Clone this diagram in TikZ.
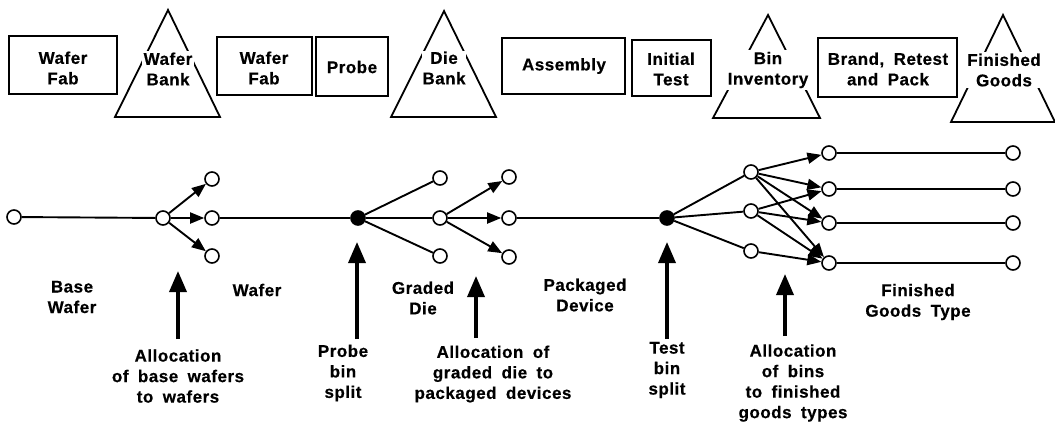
\documentclass[tikz,border=0pt]{standalone}
\usepackage{fontspec}
\setmainfont{Liberation Sans}[LetterSpace=3, WordSpace=1.8, FakeBold=0.5]
\usetikzlibrary{arrows.meta}
\newcommand\lblfont{\fontsize{17}{20.5}\selectfont\bfseries}
\tikzset{
  lbl/.style={font=\lblfont, align=center, inner sep=1pt},
  stagebox/.style={draw, line width=1.6pt},
  bank/.style={draw, line width=1.8pt, line join=miter},
  banktext/.style={lbl, fill=white, inner sep=2pt},
  dot/.style={circle, draw, fill=white, line width=1.6pt, minimum size=14pt, inner sep=0pt},
  bigdot/.style={circle, draw, fill=black, line width=1.6pt, minimum size=14pt, inner sep=0pt},
  link/.style={line width=1.9pt},
  flow/.style={line width=1.9pt, -{Triangle[length=14pt,width=11pt]}},
  decision/.style={line width=3.5pt, -{Triangle[length=21pt,width=17pt]}},
}
\begin{document}
\begin{tikzpicture}[x=1pt, y=-1pt]
\useasboundingbox (0,0) rectangle (1055,424);

% ---- process stages along the top ----
\draw[stagebox] (9,36) rectangle (117,94);
\node[lbl] (fab1) at (63,68) {Wafer\\Fab};

\draw[bank] (168,10) -- (115,117) -- (220,117) -- cycle;
\node[banktext] (wbank) at (168,69) {Wafer\\Bank};

\draw[stagebox] (217,37) rectangle (312,95);
\node[lbl] (fab2) at (264,68) {Wafer\\Fab};

\draw[stagebox] (316,37) rectangle (388,96);
\node[lbl] (probe) at (352,67) {Probe};

\draw[bank] (444,11) -- (391,117) -- (496,117) -- cycle;
\node[banktext, inner sep=0.5pt] (dbank) at (444,68) {Die\\Bank};

\draw[stagebox] (502,38) rectangle (625,94);
\node[lbl] (assy) at (564,66) {Assembly};

\draw[stagebox] (632,40) rectangle (711,96);
\node[lbl] (itest) at (671,69) {Initial\\Test};

\draw[bank] (768,15) -- (713,118) -- (820,118) -- cycle;
\node[banktext] (binv) at (768,70) {Bin\\Inventory};

\draw[stagebox] (818,38) rectangle (957,97);
\node[lbl] (brand) at (888,69) {Brand, Retest\\and Pack};

\draw[bank] (1003,15) -- (951,122) -- (1055,122) -- cycle;
\node[banktext] (fgoods) at (1004,70) {Finished\\Goods};

% ---- product flow network ----
\node[dot] (s) at (14,217) {};
\node[dot] (a) at (163,218) {};
\node[dot] (a1) at (212,179) {};
\node[dot] (a2) at (212,218) {};
\node[dot] (a3) at (212,256) {};
\node[bigdot] (p) at (358,218) {};
\node[dot] (b1) at (440,178) {};
\node[dot] (b2) at (440,218) {};
\node[dot] (b3) at (440,256) {};
\node[dot] (c1) at (509,177) {};
\node[dot] (c2) at (509,218) {};
\node[dot] (c3) at (509,257) {};
\node[bigdot] (t) at (667,218) {};
\node[dot] (i1) at (751,172) {};
\node[dot] (i2) at (751,211) {};
\node[dot] (i3) at (751,251) {};
\node[dot] (f1) at (829,153) {};
\node[dot] (f2) at (829,189) {};
\node[dot] (f3) at (829,223) {};
\node[dot] (f4) at (829,263) {};
\node[dot] (g1) at (1013,153) {};
\node[dot] (g2) at (1013,189) {};
\node[dot] (g3) at (1013,223) {};
\node[dot] (g4) at (1013,263) {};

\draw[link] (s) -- (a);
\draw[flow] (a) -- (a1);
\draw[flow] (a) -- (a2);
\draw[flow] (a) -- (a3);
\draw[link] (a2) -- (p);
\draw[link] (p) -- (b1);
\draw[link] (p) -- (b2);
\draw[link] (p) -- (b3);
\draw[flow] (b2) -- (c1);
\draw[flow] (b2) -- (c2);
\draw[flow] (b2) -- (c3);
\draw[link] (c2) -- (t);
\draw[link] (t) -- (i1);
\draw[link] (t) -- (i2);
\draw[link] (t) -- (i3);
\foreach \k in {1,2,3,4} {\draw[flow] (i1) -- (f\k);}
\foreach \k in {2,3,4} {\draw[flow] (i2) -- (f\k);}
\draw[flow] (i3) -- (f4);
\foreach \k in {1,2,3,4} {\draw[link] (f\k) -- (g\k);}

% ---- item labels ----
\node[lbl] (lbase) at (72,297) {Base\\Wafer};
\node[lbl] (lwafer) at (257,290) {Wafer};
\node[lbl] (lgraded) at (423,298) {Graded\\Die};
\node[lbl] (lpack) at (585,295) {Packaged\\Device};
\node[lbl] (lfg) at (918,302) {Finished\\Goods Type};

% ---- decision arrows and their captions ----
\coordinate (d1b) at (178,339); \coordinate (d1t) at (178,271);
\coordinate (d2b) at (357,339); \coordinate (d2t) at (357,242);
\coordinate (d3b) at (476,338); \coordinate (d3t) at (476,276);
\coordinate (d4b) at (667,339); \coordinate (d4t) at (667,242);
\coordinate (d5b) at (785,336); \coordinate (d5t) at (785,274);
\draw[decision] (d1b) -- (d1t);
\draw[decision] (d2b) -- (d2t);
\draw[decision] (d3b) -- (d3t);
\draw[decision] (d4b) -- (d4t);
\draw[decision] (d5b) -- (d5t);

\node[lbl] (alloc1) at (178,376) {Allocation\\of base wafers\\to wafers};
\node[lbl] (psplit) at (343,373) {Probe\\bin\\split};
\node[lbl] (alloc2) at (493,374) {Allocation of\\graded die to\\packaged devices};
\node[lbl] (tsplit) at (667,370) {Test\\bin\\split};
\node[lbl] (alloc3) at (793,383) {Allocation\\of bins\\to finished\\goods types};
\end{tikzpicture}
\end{document}
